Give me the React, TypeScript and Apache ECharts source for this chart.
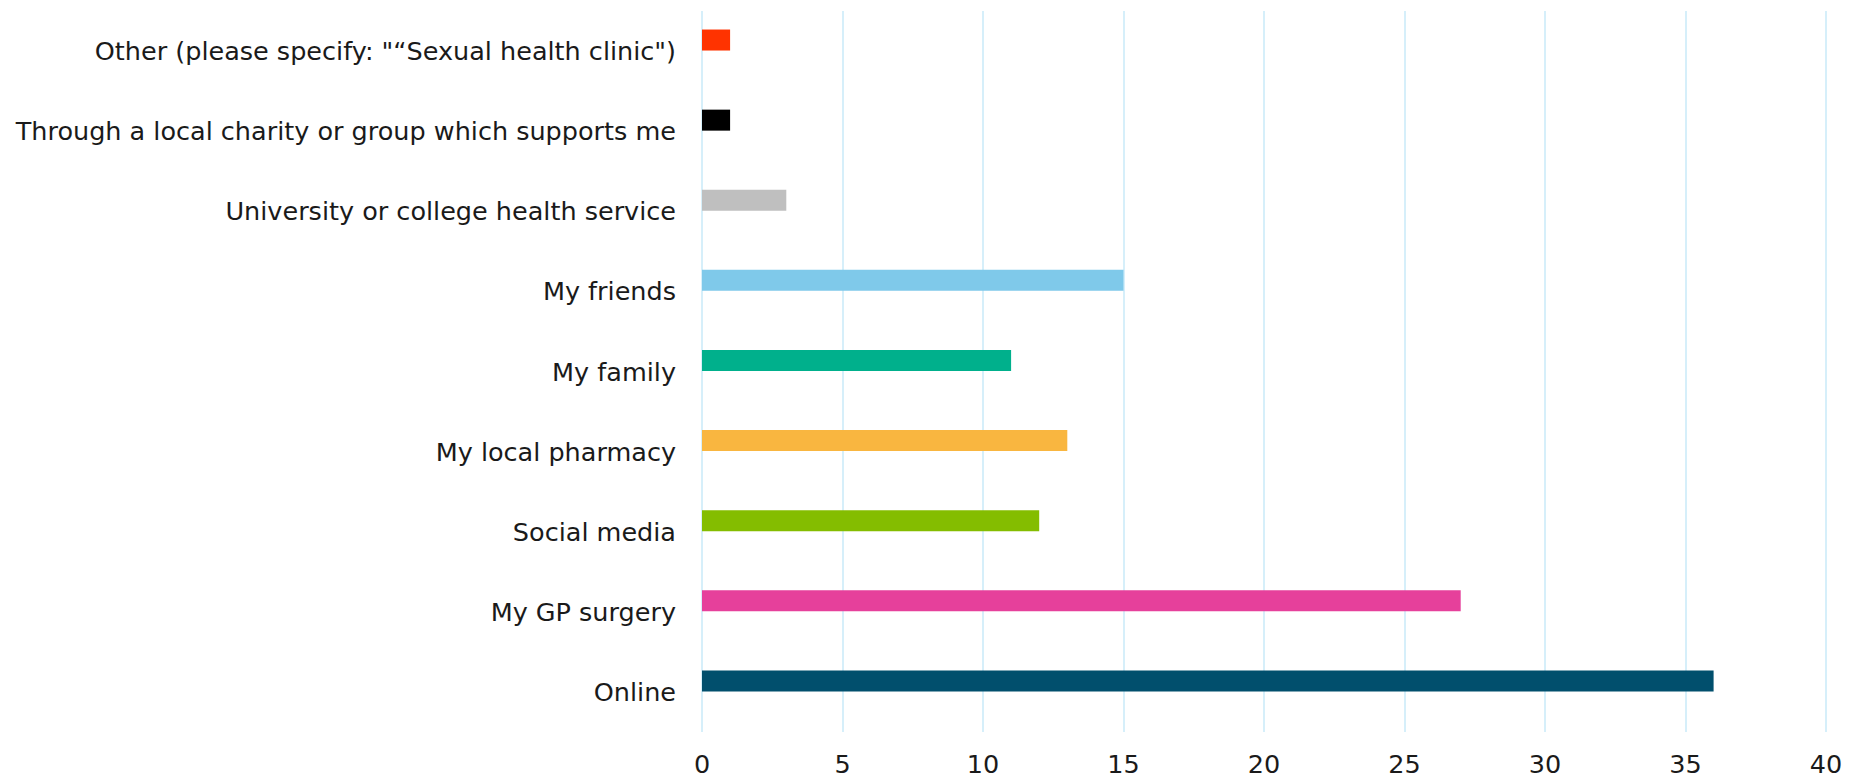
import React, { useEffect, useRef } from "react";
import * as echarts from "echarts";

const categories = [
  "Other (please specify: \"\u201cSexual health clinic\")",
  "Through a local charity or group which supports me",
  "University or college health service",
  "My friends",
  "My family",
  "My local pharmacy",
  "Social media",
  "My GP surgery",
  "Online",
];
const values = [1, 1, 3, 15, 11, 13, 12, 27, 36];
const colors = [
  "#ff3300",
  "#000000",
  "#bfbfbf",
  "#7fc9ea",
  "#00b08c",
  "#f9b640",
  "#84bd00",
  "#e6409b",
  "#014f6d",
];
const xTicks = { min: 0, max: 40, interval: 5 };

export default function App() {
  const ref = useRef<HTMLDivElement>(null);
  useEffect(() => {
    document.body.style.margin = "0";
    const chart = echarts.init(ref.current!, null, { renderer: "svg" });
    const font = "DejaVu Sans";
    chart.setOption({
      animation: false,
      backgroundColor: "#ffffff",
      grid: { left: 702, right: 27, top: 11, bottom: 48, containLabel: false },
      xAxis: {
        type: "value",
        min: xTicks.min,
        max: xTicks.max,
        interval: xTicks.interval,
        axisLine: { show: false },
        axisTick: { show: false },
        splitLine: { show: true, lineStyle: { color: "#c9eaf8", width: 1.5 } },
        axisLabel: {
          color: "#1a1a1a",
          fontSize: 25.5,
          lineHeight: 26,
          fontFamily: font,
          margin: 19,
        },
      },
      yAxis: {
        type: "category",
        inverse: true,
        data: categories,
        axisLine: { show: false },
        axisTick: { show: false },
        splitLine: { show: false },
        axisLabel: { color: "#1a1a1a", fontSize: 25.5, fontFamily: font, margin: 26 },
      },
      series: [
        {
          type: "bar",
          data: values.map((v, i) => ({ value: v, itemStyle: { color: colors[i] } })),
          barWidth: 21,
          barGap: "5%",
        },
        {
          type: "bar",
          data: values.map(() => null),
          barWidth: 21,
          barGap: "5%",
          silent: true,
        },
      ],
    });
    return () => chart.dispose();
  }, []);
  return <div ref={ref} style={{ width: 1853, height: 780 }} />;
}
